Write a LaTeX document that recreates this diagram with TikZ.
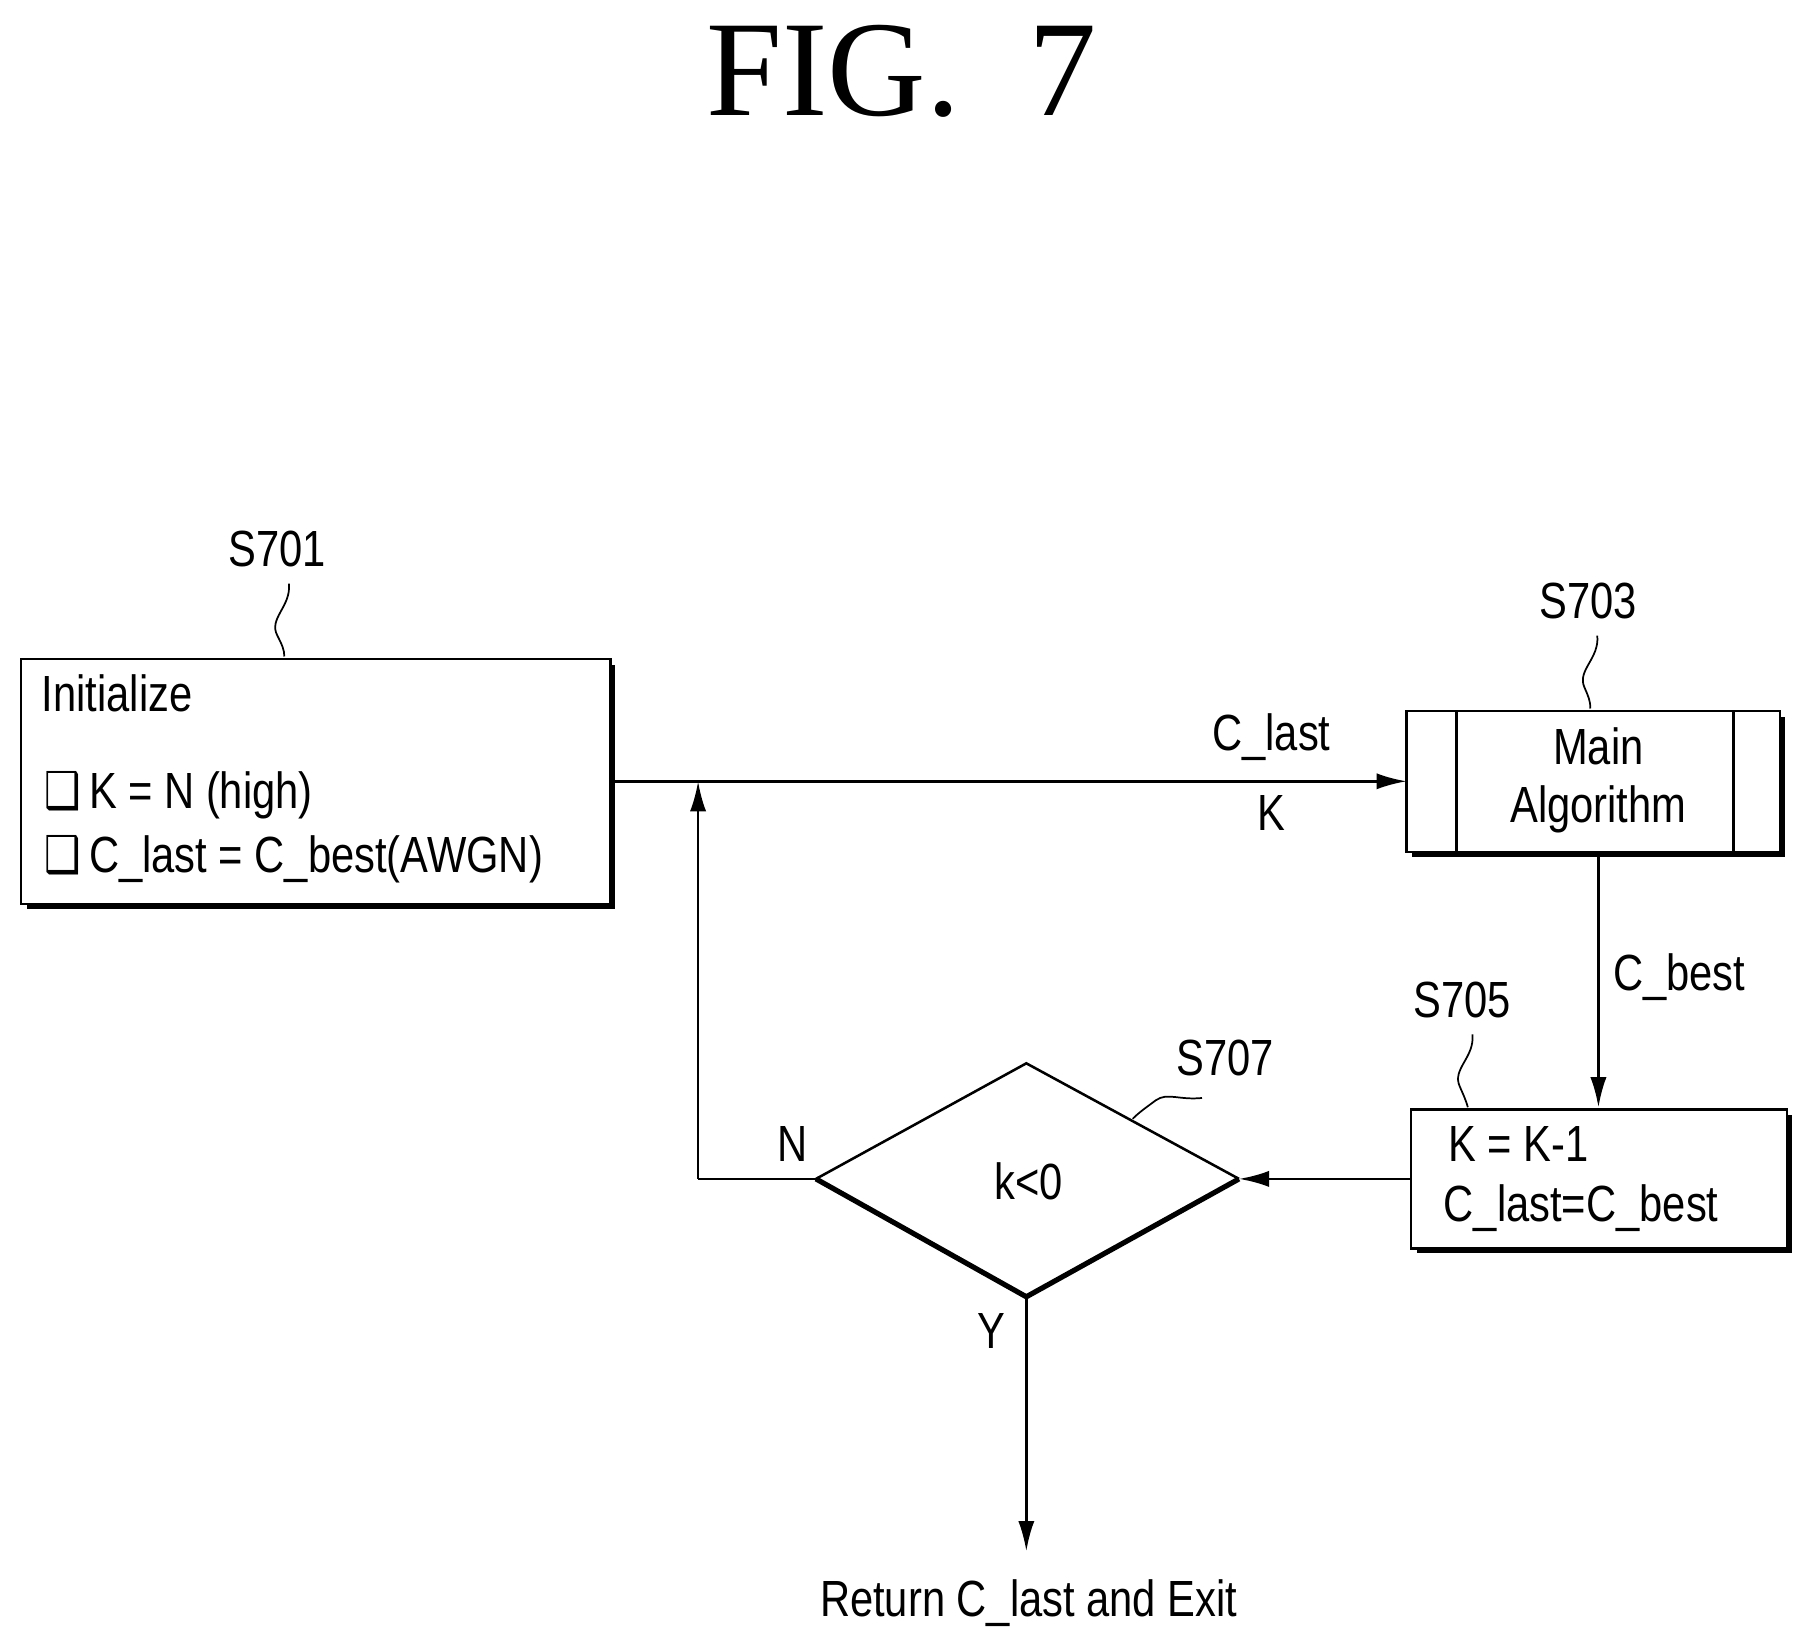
\documentclass[tikz,border=0pt]{standalone}
\usepackage{fontspec}
\setmainfont{Liberation Sans}[FakeStretch=0.82]
\newfontfamily\titlefont{Liberation Serif}
\newfontfamily\symfont{DejaVu Sans}[FakeStretch=0.8]
\usetikzlibrary{arrows.meta}
\begin{document}
\begin{tikzpicture}[x=1pt,y=-1pt,
  txt/.style={font=\fontsize{44}{50}\selectfont, inner sep=0},
  ln/.style={line width=2.2pt},
  arr/.style={line width=2.2pt, -{Latex[length=26pt,width=14pt]}},
  lead/.style={line width=1.5pt}]
\useasboundingbox (0,0) rectangle (1560,1424);
\node[txt, font=\fontsize{118}{130}\titlefont] (title) at (780,62) {FIG.~~7};
% shadowed box macro via path
\def\sbox(#1,#2)(#3,#4){%
  \draw[line width=5pt] (#1+5,#4+2) -- (#3+2,#4+2) -- (#3+2,#2+5);
  \draw[ln] (#1,#2) rectangle (#3,#4);}
% S701
\sbox(18,570)(528,782)
\node[txt, anchor=west] (init) at (36,600) {Initialize};
\node[txt, anchor=west] (l1) at (38,688) {{\symfont ❑}\,K = N (high)};
\node[txt, anchor=west] (l2) at (38,743) {{\symfont ❑}\,C\_last = C\_best(AWGN)};
\coordinate (b1) at (246,568);
\node[txt] (s701) at (240,475) {S701};
\draw[lead] (250,505) .. controls (252,525) and (232,535) .. (240,550) .. controls (244,558) and (246,562) .. (b1);
% S703
\sbox(1217,615)(1540,737)
\draw[ln] (1260,615) -- (1260,737) (1500,615) -- (1500,737);
\node[txt] (main) at (1383,646) {Main};
\node[txt] (alg) at (1383,700) {Algorithm};
\node[txt] (s703) at (1374,520) {S703};
\coordinate (b3) at (1376,613);
\draw[lead] (1382,550) .. controls (1384,570) and (1364,580) .. (1371,595) .. controls (1374,602) and (1376,606) .. (b3);
% S705
\sbox(1221,960)(1546,1080)
\node[txt, anchor=west] (k1) at (1253,990) {K = K-1};
\node[txt, anchor=west] (k2) at (1249,1045) {C\_last=C\_best};
\node[txt] (s705) at (1265,865) {S705};
\coordinate (b5) at (1270,958);
\draw[lead] (1274,895) .. controls (1276,915) and (1256,925) .. (1263,940) .. controls (1266,947) and (1268,951) .. (b5);
% S707 diamond
\coordinate (dl) at (706,1020); \coordinate (dr) at (1072,1020);
\coordinate (dt) at (888,920); \coordinate (db) at (888,1122);
\draw[ln] (dl) -- (dt) -- (dr);
\draw[line width=4.5pt, line join=miter] (dl) -- (db) -- (dr);
\node[txt] (cond) at (890,1022) {k<0};
\node[txt] (s707) at (1060,915) {S707};
\coordinate (b7) at (980,968);
\draw[lead] (1040,950) .. controls (1020,952) and (1010,945) .. (1000,952) .. controls (992,958) and (986,962) .. (b7);
% connectors
\coordinate (a1) at (532,676); \coordinate (a3) at (1217,676);
\draw[arr] (a1) -- (a3);
\node[txt] (cl) at (1100,638) {C\_last};
\node[txt] (kk) at (1100,703) {K};
\coordinate (o3) at (1383,739); \coordinate (i5) at (1383,958);
\draw[arr] (o3) -- (i5);
\node[txt] (cb) at (1453,845) {C\_best};
\coordinate (o5) at (1221,1020);
\draw[arr] (o5) -- (dr);
\coordinate (nc) at (604,1020); \coordinate (nt) at (604,676);
\draw[ln] (dl) -- (nc);
\draw[arr] (nc) -- (nt);
\node[txt] (n) at (686,990) {N};
\coordinate (ex) at (888,1342);
\draw[arr] (db) -- (ex);
\node[txt] (y) at (858,1152) {Y};
\node[txt] (ret) at (890,1387) {Return C\_last and Exit};
\end{tikzpicture}
\end{document}
